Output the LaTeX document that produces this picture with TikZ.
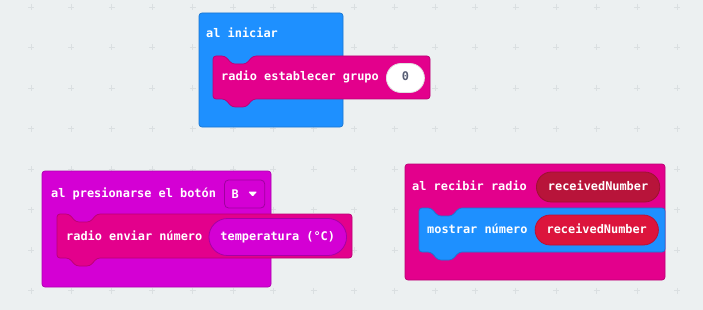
\documentclass[tikz,border=0pt]{standalone}
\usepackage{fontspec}
\setmonofont{DejaVu Sans Mono}
\usepackage{tikz}
\usetikzlibrary{positioning}

\definecolor{hintergrund}{HTML}{ECF0F1}
\definecolor{kreuzgrau}{HTML}{DADFE1}
\definecolor{basisblau}{HTML}{1E90FF}
\definecolor{funkpink}{HTML}{E3008C}
\definecolor{eingabelila}{HTML}{D400D4}
\definecolor{variablerot}{HTML}{DC143C}
\definecolor{parameterrot}{HTML}{B8143A}
\definecolor{zahlgrau}{HTML}{575E75}

% Anweisungsblock mit Kerbe oben und Nase unten: links, oben, rechts, unten, Farbe
\newcommand{\anweisung}[5]{%
  \filldraw[block, fill=#5, draw=#5!82!black]
    (#1,#2) -- (#1+12,#2) -- (#1+19,#2+8) -- (#1+33,#2+8) -- (#1+40,#2)
    -- (#3,#2) -- (#3,#4) -- (#1+40,#4) -- (#1+33,#4+8) -- (#1+19,#4+8)
    -- (#1+12,#4) -- (#1,#4) -- cycle;}

\begin{document}
\begin{tikzpicture}[x=1pt, y=-1pt,
			font=\ttfamily\bfseries\fontsize{11.9}{14}\selectfont,
			block/.style={line width=0.7pt, rounded corners=3pt},
			etikett/.style={text=white, inner sep=0pt, anchor=west, text height=8.5pt, text depth=2.5pt},
			oval/.style={text=white, inner ysep=0pt, inner xsep=11.5pt, text height=8.5pt, text depth=2.5pt, line width=0.8pt},
			kreuz/.style={color=kreuzgrau, line width=0.8pt}]
			% Hintergrund
			\useasboundingbox (0,0) rectangle (703,310);
			\fill[hintergrund] (0,0) rectangle (703,310);
			% Raster aus Kreuzen
			\foreach \i in {0,...,16}
				\foreach \j in {0,...,7}
					\draw[kreuz] (31+40.4*\i-3,7+40.5*\j) -- (31+40.4*\i+3,7+40.5*\j)
						(31+40.4*\i,7+40.5*\j-3) -- (31+40.4*\i,7+40.5*\j+3);

			% al iniciar
			\filldraw[block, fill=basisblau, draw=basisblau!82!black] (199,13) rectangle (343,127);
			\node[etikett] (start) at (206,35) {al iniciar};
			\anweisung{213}{56}{430}{99}{funkpink}
			\node[etikett] (gruppe) at (221,78) {radio establecer grupo};
			\node[oval, right=7pt of gruppe, fill=white, draw=black!12, text=zahlgrau,
				minimum width=38pt, minimum height=29pt, rounded corners=14.5pt] (gruppenwert) {0};

			% al presionarse el boton
			\filldraw[block, fill=eingabelila, draw=eingabelila!82!black] (42,171) rectangle (271,287);
			\node[etikett] (druecken) at (51,194) {al presionarse el botón};
			\node[right=8pt of druecken, fill=eingabelila, draw=eingabelila!75!black, line width=0.8pt,
				text=white, inner xsep=7pt, minimum height=28pt, rounded corners=4pt] (knopf) {B\hspace{19pt}\null};
			\fill[white, rounded corners=1pt] ([xshift=-17pt,yshift=2.5pt]knopf.east) -- ([xshift=-8pt,yshift=2.5pt]knopf.east)
				-- ([xshift=-12.5pt,yshift=-2.5pt]knopf.east) -- cycle;
			\anweisung{57}{214}{352}{258}{funkpink}
			\node[etikett] (senden) at (66,237) {radio enviar número};
			\node[oval, right=6pt of senden, fill=eingabelila, draw=eingabelila!78!black,
				minimum height=37pt, rounded corners=18.5pt] (temperatur) {temperatura (°C)};

			% al recibir radio
			\filldraw[block, fill=funkpink, draw=funkpink!82!black] (405,164) rectangle (665,280);
			\node[etikett] (empfangen) at (412,187) {al recibir radio};
			\node[oval, right=9pt of empfangen, fill=parameterrot, draw=parameterrot!85!black,
				minimum height=30pt, rounded corners=15pt] (parameter) {receivedNumber};
			\anweisung{419}{208}{665}{252}{basisblau}
			\node[etikett] (anzeigen) at (427,230) {mostrar número};
			\node[oval, right=7pt of anzeigen, fill=variablerot, draw=variablerot!85!black,
				minimum height=30pt, rounded corners=15pt] (variable) {receivedNumber};
		\end{tikzpicture}
\end{document}
